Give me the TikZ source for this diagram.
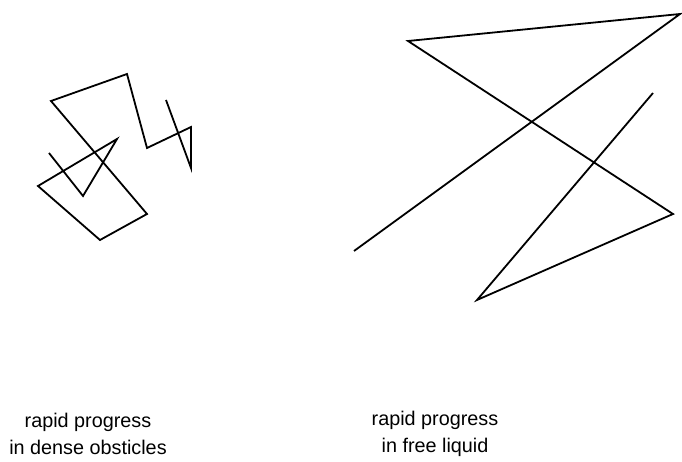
\documentclass[tikz,border=0pt]{standalone}
\usepackage{fontspec}
\setmainfont{Liberation Sans}
\usepackage{tikz}
\usetikzlibrary{positioning}

\begin{document}
\begin{tikzpicture}[
x=1pt, y=-1pt,
track/.style={draw, line width=1.8pt, line join=miter},
caption/.style={align=center, font=\fontsize{19.8}{27.5}\selectfont, inner sep=0pt}
]
\useasboundingbox (0,0) rectangle (682,462);
% dense obstacles: short zigzag steps
\draw[track] (49,153) -- (83,196) -- (117,139) -- (38,186) -- (100,240) -- (147,214)
  -- (51,101) -- (127,74) -- (147,148) -- (191,127) -- (191,168) -- (166,100);
% free liquid: long straight runs
\draw[track] (354,251) -- (680,14) -- (408,41) -- (673,214) -- (477,300) -- (653,93);

\node[caption] (dense) at (88,434) {rapid progress\\in dense obsticles};
\node[caption] (free) at (435,434) {rapid progress\\in free liquid};
\end{tikzpicture}
\end{document}
